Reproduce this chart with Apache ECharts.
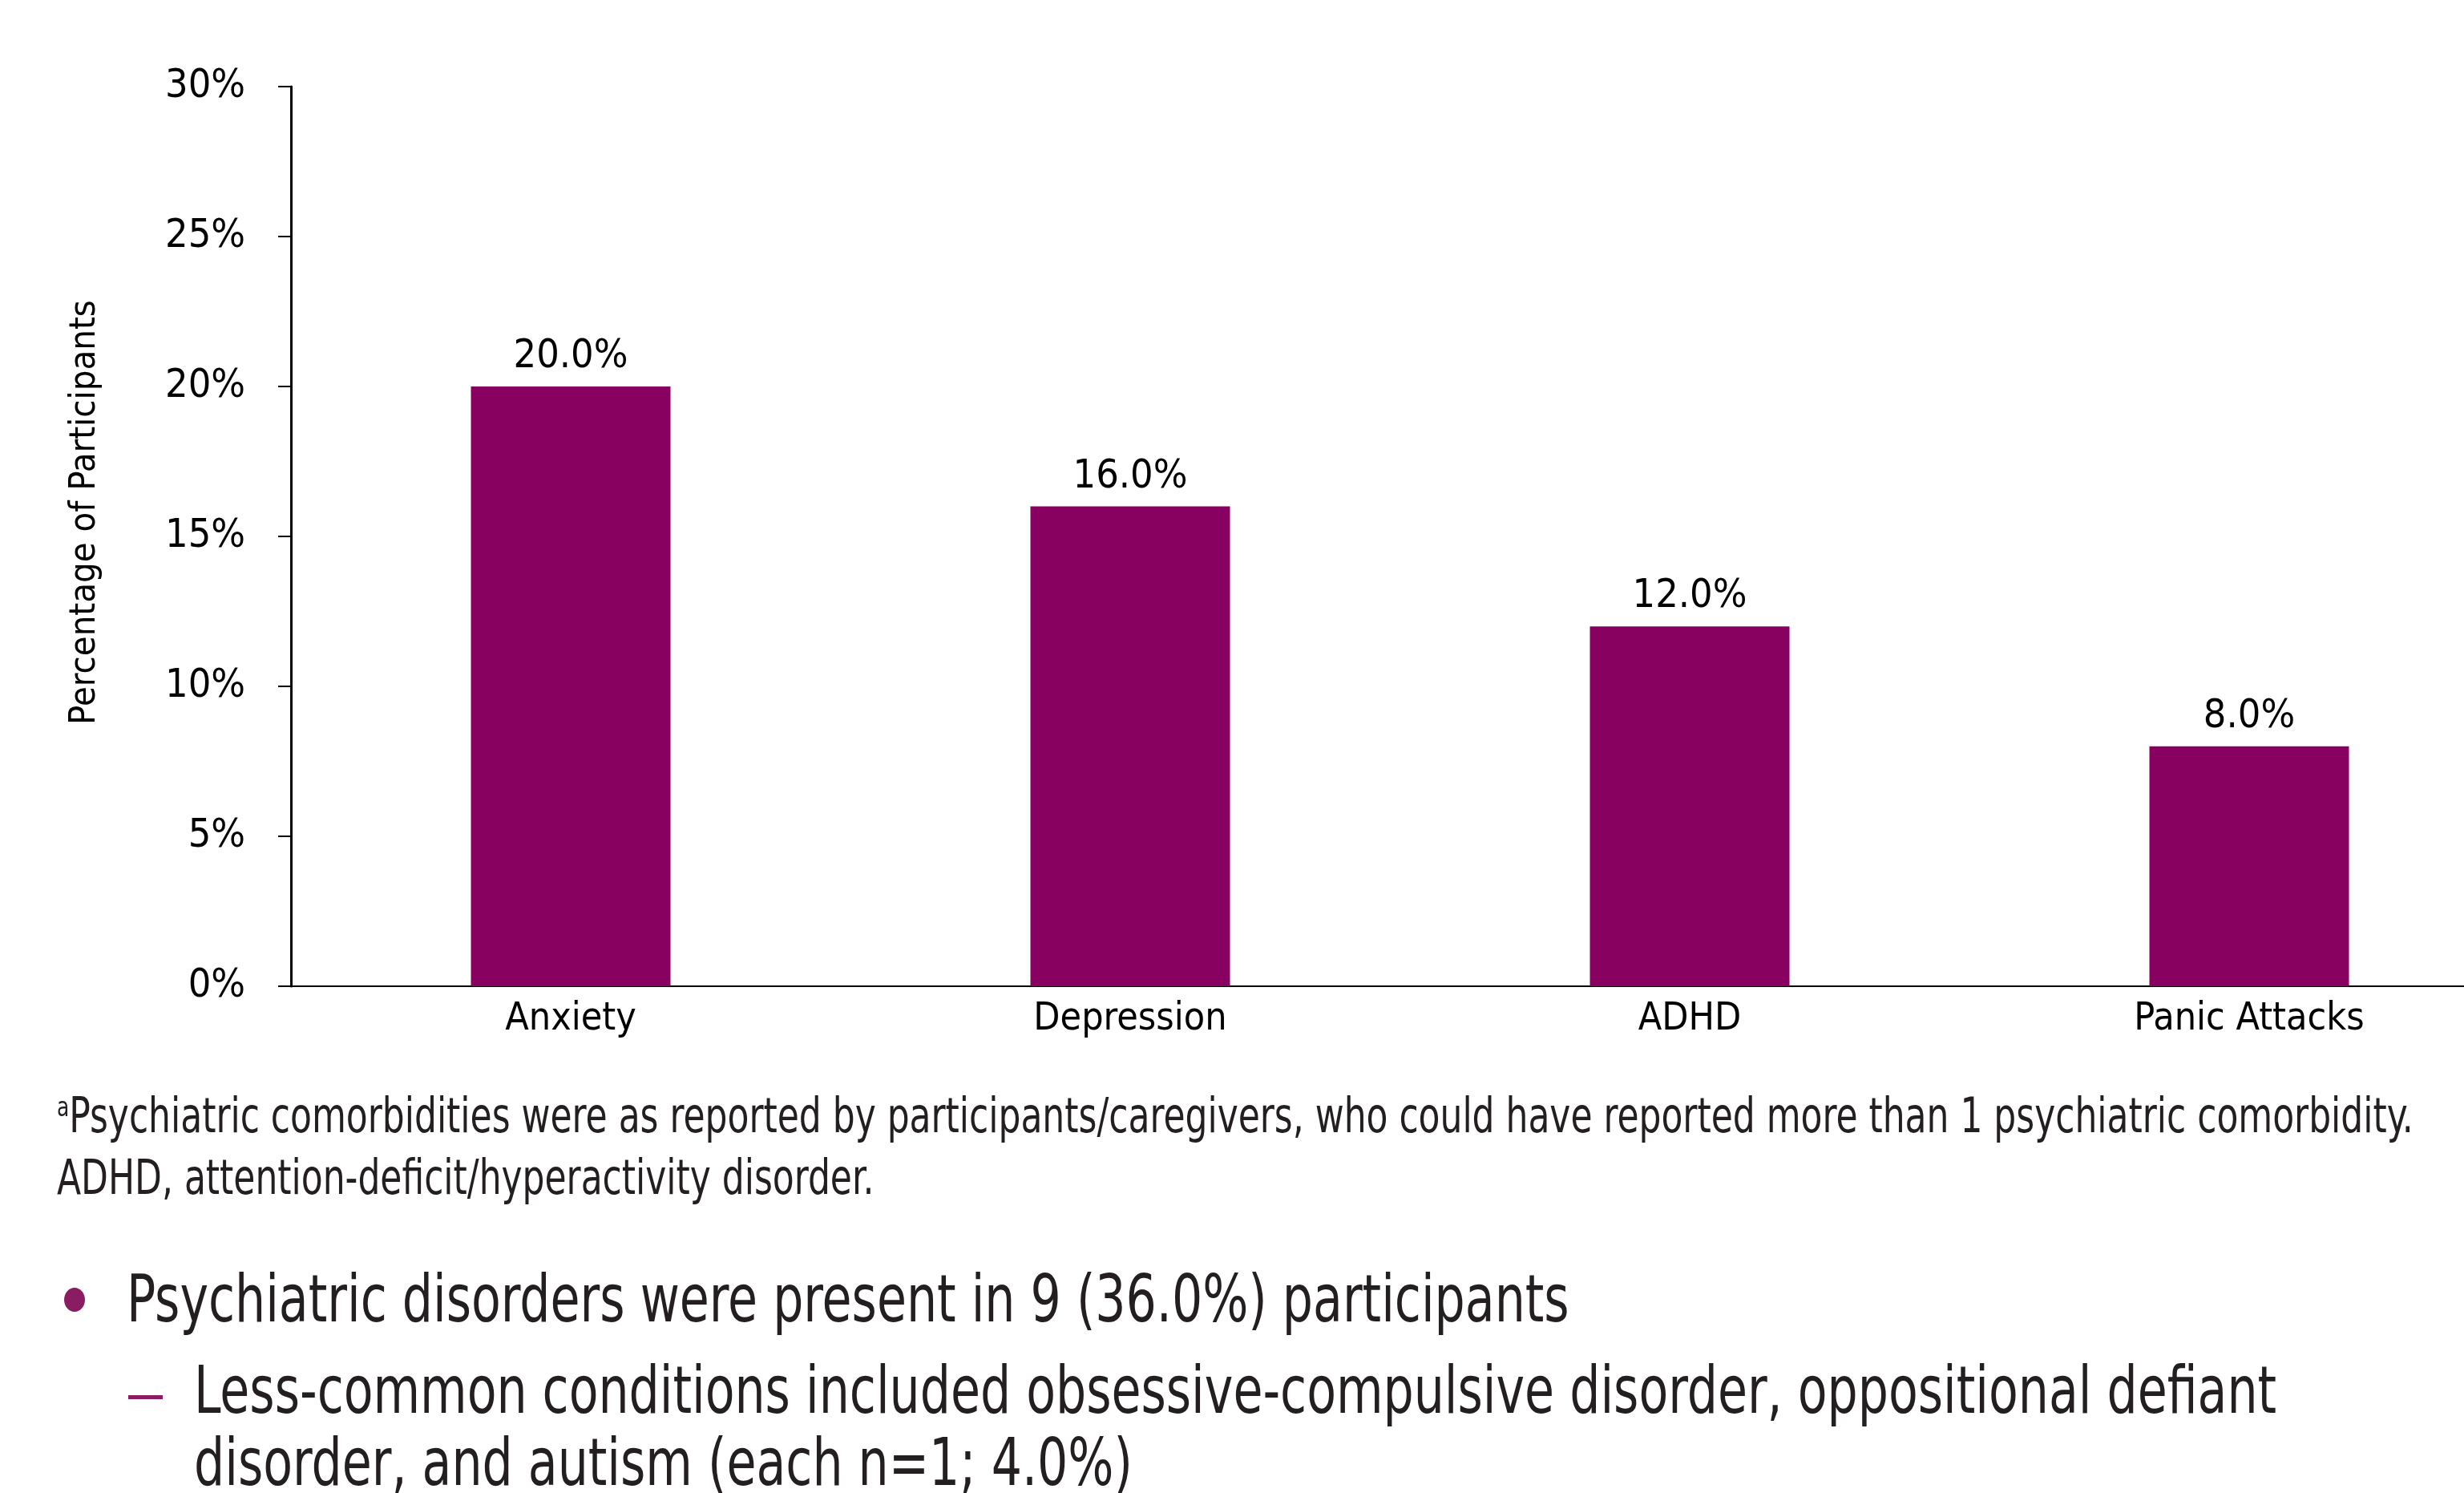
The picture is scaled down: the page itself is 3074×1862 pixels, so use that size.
<!DOCTYPE html>
<html>
<head>
<meta charset="utf-8">
<script src="https://cdn.jsdelivr.net/npm/echarts@6/dist/echarts.min.js"></script>
<style>
  html, body { margin: 0; padding: 0; background: #fff; }
  #chart { width: 3074px; height: 1862px; }
</style>
</head>
<body>
<div id="chart"></div>
<script>
// Psychiatric comorbidities reported by participants/caregivers
const categories = ['Anxiety', 'Depression', 'ADHD', 'Panic Attacks'];
const percentValues = [20.0, 16.0, 12.0, 8.0];
const yTickLabels = ['0%', '5%', '10%', '15%', '20%', '25%', '30%'];

// condensed face for chart labels, condensed face + horizontal squeeze for notes
const LABEL_FONT = '"DejaVu Sans Condensed", sans-serif';
const NOTE_FONT = '"DejaVu Sans Condensed", sans-serif';
const NOTE_SQUEEZE = 0.815;
const BAR_COLOR = '#880060';
const ACCENT = '#8a1c62';
const TEXT_DARK = '#231f20';

const footnote1 = 'Psychiatric comorbidities were as reported by participants/caregivers, who could have reported more than 1 psychiatric comorbidity.';
const footnote2 = 'ADHD, attention-deficit/hyperactivity disorder.';
const bullet1 = 'Psychiatric disorders were present in 9 (36.0%) participants';
const subBullet1 = 'Less-common conditions included obsessive-compulsive disorder, oppositional defiant';
const subBullet2 = 'disorder, and autism (each n=1; 4.0%)';

const chart = echarts.init(document.getElementById('chart'), null, { renderer: 'canvas' });

function noteText(x, y, text, size) {
  return {
    type: 'text', x: x, y: y, scaleX: NOTE_SQUEEZE,
    style: { text: text, fontFamily: NOTE_FONT, fontSize: size, fill: TEXT_DARK, verticalAlign: 'middle' }
  };
}

chart.setOption({
  animation: false,
  backgroundColor: '#ffffff',
  grid: {
    left: 363, width: 2792, top: 108, bottom: 632,
    containLabel: false, outerBoundsMode: 'none'
  },
  xAxis: {
    type: 'category',
    data: categories,
    axisLine: { show: true, lineStyle: { color: '#000', width: 2 } },
    axisTick: { show: false },
    axisLabel: { color: '#000', fontFamily: LABEL_FONT, fontSize: 48, margin: 18 }
  },
  yAxis: {
    type: 'value',
    min: 0,
    max: 30,
    interval: 5,
    name: 'Percentage of Participants',
    nameLocation: 'middle',
    nameGap: 234,
    nameRotate: 90,
    nameTextStyle: {
      color: '#000', fontFamily: LABEL_FONT, fontSize: 45,
      padding: [0, 0, 0, 60]
    },
    splitLine: { show: false },
    axisLine: { show: true, lineStyle: { color: '#000', width: 3 } },
    axisTick: { show: true, length: 16, lineStyle: { color: '#000', width: 2 } },
    axisLabel: {
      color: '#000', fontFamily: LABEL_FONT, fontSize: 50, margin: 57,
      formatter: (v) => yTickLabels[Math.round(v / 5)]
    }
  },
  series: [{
    type: 'bar',
    data: percentValues,
    barWidth: 249,
    itemStyle: { color: BAR_COLOR },
    label: {
      show: true,
      position: 'top',
      distance: 12,
      color: '#000',
      fontFamily: LABEL_FONT,
      fontSize: 50,
      formatter: (p) => p.value.toFixed(1) + '%'
    }
  }],
  graphic: [
    {
      type: 'text', x: 71, y: 1396, scaleX: NOTE_SQUEEZE,
      style: {
        text: '{sup|a}{main|' + footnote1 + '}',
        verticalAlign: 'middle',
        rich: {
          sup: { fontFamily: NOTE_FONT, fontSize: 34, fill: TEXT_DARK, verticalAlign: 'top' },
          main: { fontFamily: NOTE_FONT, fontSize: 60, fill: TEXT_DARK }
        }
      }
    },
    noteText(71, 1473, footnote2, 60),
    {
      type: 'ellipse', shape: { cx: 93, cy: 1621, rx: 13, ry: 15 },
      style: { fill: ACCENT }
    },
    noteText(158, 1627, bullet1, 82),
    {
      type: 'rect', shape: { x: 160, y: 1740, width: 43, height: 5 },
      style: { fill: ACCENT }
    },
    noteText(242, 1741, subBullet1, 82),
    noteText(242, 1831, subBullet2, 82)
  ]
});
</script>
</body>
</html>
